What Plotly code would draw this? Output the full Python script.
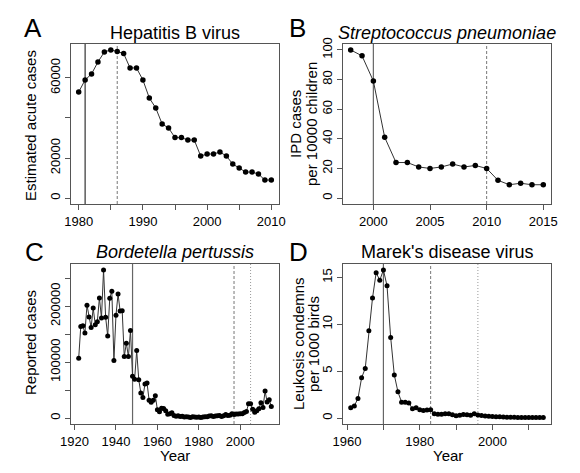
import plotly.graph_objects as go

W, H = 580, 473

# ---------------- data ----------------
hbv_years = list(range(1980, 2011))
hbv_cases = [53000, 59000, 62000, 68000, 73000, 74000, 73200, 72200, 65000, 65000,
             59000, 50000, 45000, 37000, 35000, 30200, 30200, 29000, 29000, 21000,
             22000, 22000, 23000, 21000, 17000, 15000, 13000, 13000, 12000, 9000, 9000]

spn_years = list(range(1998, 2016))
spn_cases = [100, 96, 79, 41, 24, 24, 21, 20, 21, 23, 21, 22, 20, 12, 9, 10, 9, 9]

bp_years = list(range(1922, 2016))
bp_cases = [107000, 164000, 165000, 152000, 202000, 181000, 162000, 197000, 167000, 172500,
            215000, 179000, 265000, 180500, 147000, 214500, 227000, 103000, 184000, 222000,
            191500, 192000, 110000, 134000, 110000, 156500, 74700, 69500, 120700, 68700,
            45000, 37000, 61000, 62800, 31700, 28300, 32100, 40000, 14800, 11500,
            17700, 17100, 13000, 6800, 7700, 9700, 4800, 3300, 4200, 3000,
            3300, 1800, 2400, 1700, 1000, 2200, 2100, 1600, 1700, 1200,
            1900, 2500, 2300, 3600, 4200, 2800, 3500, 4200, 4600, 2700,
            4100, 6600, 4600, 5100, 7800, 6600, 7400, 7300, 7900, 7600,
            9800, 11600, 25800, 25600, 15600, 10500, 13300, 16900, 27500, 18700,
            48300, 28600, 33000, 20800]

mdv_years = list(range(1961, 2015))
mdv_cases = [1.1, 1.3, 2.1, 4.3, 5.3, 9.3, 12.8, 15.5, 14.7, 15.8,
             14.1, 8.6, 4.6, 2.8, 1.7, 1.7, 1.6, 1.0, 1.1, 0.9,
             0.8, 0.85, 0.9, 0.45, 0.42, 0.42, 0.45, 0.45, 0.35, 0.25,
             0.3, 0.38, 0.35, 0.3, 0.45, 0.32, 0.28, 0.22, 0.2, 0.18,
             0.15, 0.15, 0.12, 0.1, 0.1, 0.08, 0.07, 0.06, 0.06, 0.05,
             0.05, 0.05, 0.05, 0.05]

# intervention years: (year, style)
hbv_lines = [(1981, "solid"), (1986, "dashed")]
spn_lines = [(2000, "solid"), (2010, "dashed")]
bp_lines = [(1948, "solid"), (1997, "dashed"), (2005, "dotted")]
mdv_lines = [(1970, "solid"), (1983, "dashed"), (1996, "dotted")]

titles = ["Hepatitis B virus", "<i>Streptococcus pneumoniae</i>",
          "<i>Bordetella pertussis</i>", "Marek's disease virus"]
letters = ["A", "B", "C", "D"]

# ---------------- layout helpers ----------------
FONT = "Liberation Sans, Arial, Helvetica, sans-serif"

def px_x(p):
    return p / W

def px_y(p):
    return 1 - p / H

# plot boxes in pixels (left, right, top, bottom)
boxes = [(71, 279, 44, 204), (343, 551, 44, 204),
         (71, 279, 264, 424), (343, 551, 264, 424)]

fig = go.Figure()

series = [(hbv_years, hbv_cases), (spn_years, spn_cases),
          (bp_years, bp_cases), (mdv_years, mdv_cases)]

for i, (xs, ys) in enumerate(series):
    k = "" if i == 0 else str(i + 1)
    fig.add_trace(go.Scatter(
        x=xs, y=ys, mode="lines+markers",
        line=dict(color="#333333", width=1),
        marker=dict(color="black", size=5.5 if i < 2 else 5),
        xaxis="x" + k, yaxis="y" + k, showlegend=False, hoverinfo="skip"))

def rng(lo, hi):
    d = (hi - lo) * 0.04
    return [lo - d, hi + d]

x_ranges = [rng(1980, 2010), rng(1998, 2015), rng(1922, 2015), rng(1961, 2014)]
y_ranges = [rng(0, max(hbv_cases)), rng(0, 100), rng(0, max(bp_cases)), rng(0, max(mdv_cases))]

x_ticks = [
    ([1980, 1985, 1990, 1995, 2000, 2005, 2010], ["1980", "", "1990", "", "2000", "", "2010"]),
    ([2000, 2005, 2010, 2015], ["2000", "2005", "2010", "2015"]),
    ([1920, 1940, 1960, 1980, 2000], ["1920", "1940", "1960", "1980", "2000"]),
    ([1960, 1970, 1980, 1990, 2000, 2010], ["1960", "", "1980", "", "2000", ""]),
]
y_ticks = [
    ([0, 20000, 40000, 60000], ["0", "20000", "", "60000"]),
    ([0, 20, 40, 60, 80, 100], ["0", "20", "40", "60", "80", "100"]),
    ([0, 50000, 100000, 150000, 200000, 250000], ["0", "", "100000", "", "200000", ""]),
    ([0, 5, 10, 15], ["0", "5", "10", "15"]),
]

AX = "#555555"
layout = dict(width=W, height=H, autosize=False,
              margin=dict(l=0, r=0, t=0, b=0, pad=0, autoexpand=False),
              showlegend=False,
              paper_bgcolor="white", plot_bgcolor="white",
              font=dict(family=FONT, color="black"))

for i, (l, r, t, b) in enumerate(boxes):
    k = "" if i == 0 else str(i + 1)
    layout["xaxis" + k] = dict(
        domain=[px_x(l), px_x(r)], anchor="y" + k, range=x_ranges[i],
        tickvals=x_ticks[i][0], ticktext=x_ticks[i][1], automargin=False,
        showline=True, linecolor=AX, linewidth=1, mirror=True,
        ticks="outside", ticklen=5, tickcolor=AX, tickwidth=1,
        showgrid=False, zeroline=False, tickfont=dict(size=13, family=FONT))
    layout["yaxis" + k] = dict(
        domain=[px_y(b), px_y(t)], anchor="x" + k, range=y_ranges[i],
        tickvals=y_ticks[i][0], ticktext=y_ticks[i][1], tickangle=-90, automargin=False,
        showline=True, linecolor=AX, linewidth=1, mirror=True,
        ticks="outside", ticklen=5, tickcolor=AX, tickwidth=1,
        showgrid=False, zeroline=False, tickfont=dict(size=13, family=FONT))

fig.update_layout(**layout)

# vertical intervention lines
styles = {"solid": (None, "#666666", 1.2), "dashed": ("3px,2px", "#777777", 1),
          "dotted": ("1px,2px", "#999999", 1)}
for i, lines in enumerate([hbv_lines, spn_lines, bp_lines, mdv_lines]):
    k = "" if i == 0 else str(i + 1)
    for yr, st in lines:
        dash, col, wd = styles[st]
        if i == 0 and st == "solid":
            col = "#333333"
        ln = dict(color=col, width=wd)
        if dash:
            ln["dash"] = dash
        fig.add_shape(type="line", xref="x" + k, yref="y" + k + " domain",
                      x0=yr, x1=yr, y0=0, y1=1, line=ln, layer="below")

ann = []
# titles
title_pos = [(175, 33), (447, 33), (175, 252), (447, 252)]
for (cx, cy), ttl in zip(title_pos, titles):
    ann.append(dict(text=ttl, x=px_x(cx), y=px_y(cy), xref="paper", yref="paper",
                    showarrow=False, xanchor="center", yanchor="middle",
                    font=dict(size=18, family=FONT)))
# panel letters
letter_pos = [(33, 28), (297, 28), (34, 252), (298, 252)]
for (cx, cy), lt in zip(letter_pos, letters):
    ann.append(dict(text=lt, x=px_x(cx), y=px_y(cy), xref="paper", yref="paper",
                    showarrow=False, xanchor="center", yanchor="middle",
                    font=dict(size=26, family=FONT)))
# y-axis labels
ylabels = [("Estimated acute cases", 30, 126),
           ("IPD cases", 295, 124), ("per 10000 children", 311, 124),
           ("Reported cases", 30, 343),
           ("Leukosis condemns", 298, 344), ("per 1000 birds", 313, 344)]
for txt, cx, cy in ylabels:
    ann.append(dict(text=txt, x=px_x(cx), y=px_y(cy), xref="paper", yref="paper",
                    showarrow=False, xanchor="center", yanchor="middle", textangle=-90,
                    font=dict(size=15, family=FONT)))
# x-axis labels
for cx in (175, 448):
    ann.append(dict(text="Year", x=px_x(cx), y=px_y(455), xref="paper", yref="paper",
                    showarrow=False, xanchor="center", yanchor="middle",
                    font=dict(size=15, family=FONT)))

fig.update_layout(annotations=ann)
fig.write_html("out.html", config={"displayModeBar": False, "staticPlot": True},
               post_script="document.body.style.margin='0';document.body.style.overflow='hidden';")
